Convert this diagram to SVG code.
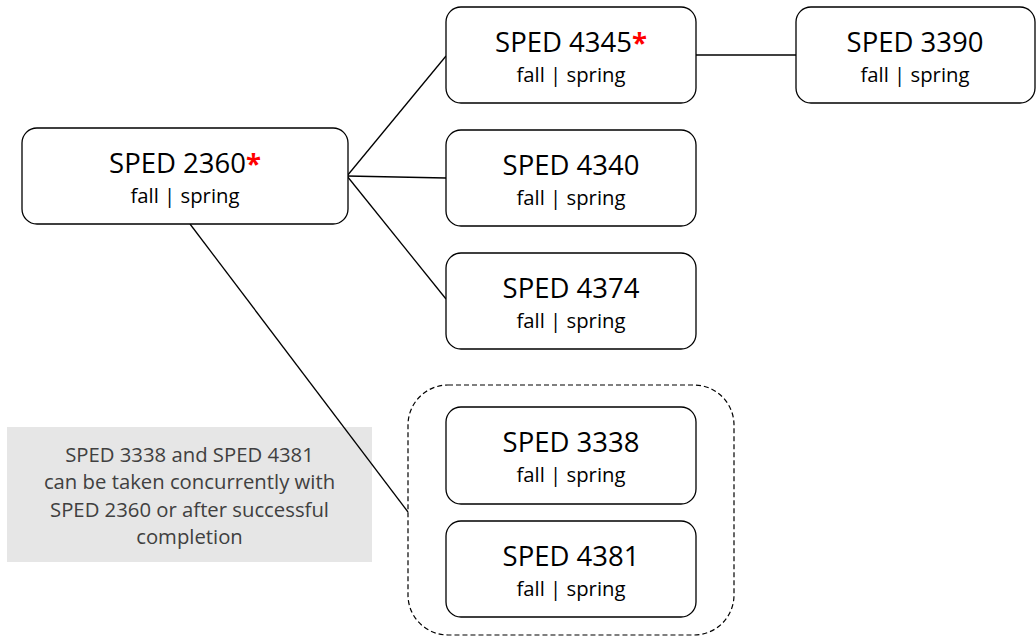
<svg xmlns="http://www.w3.org/2000/svg" width="1036" height="637" viewBox="0 0 1036 637">
<style>
.node{fill:#fff;stroke:#000;stroke-width:1.3}
.t{font-family:"Open Sans","Noto Sans",sans-serif;font-size:27.5px;fill:#000;text-anchor:middle}
.s{font-family:"Open Sans","Noto Sans",sans-serif;font-size:20.3px;fill:#000;text-anchor:middle}
.ast{fill:#ff0000;font-weight:bold}
.conn line{stroke:#000;stroke-width:1.3}
.note{font-family:"Open Sans","Noto Sans",sans-serif;font-size:20.3px;fill:#404040;text-anchor:middle}
</style>
<rect width="1036" height="637" fill="#fff"/>
<g id="note">
<rect x="7" y="427" width="365" height="135" fill="#e6e6e6"/>
<text class="note" x="189.5" y="462">SPED 3338 and SPED 4381</text>
<text class="note" x="189.5" y="489">can be taken concurrently with</text>
<text class="note" x="189.5" y="517">SPED 2360 or after successful</text>
<text class="note" x="189.5" y="544">completion</text>
</g>
<g id="connectors" class="conn">
<line x1="347" y1="176" x2="446" y2="56"/>
<line x1="347" y1="176" x2="446" y2="178"/>
<line x1="347" y1="176" x2="446" y2="299"/>
<line x1="190" y1="224" x2="408" y2="512"/>
<line x1="696" y1="55" x2="796" y2="55"/>
</g>
<g id="group-concurrent">
<rect x="408" y="385" width="326" height="250" rx="40" fill="none" stroke="#000" stroke-width="1.2" stroke-dasharray="5,3"/>
</g>
<g id="sped2360">
<rect class="node" x="22" y="128" width="326" height="96" rx="15"/>
<text class="t" x="185" y="173">SPED 2360<tspan class="ast">*</tspan></text>
<text class="s" x="185" y="203">fall | spring</text>
</g>
<g id="sped4345">
<rect class="node" x="446" y="7" width="250" height="96" rx="15"/>
<text class="t" x="571" y="52">SPED 4345<tspan class="ast">*</tspan></text>
<text class="s" x="571" y="82">fall | spring</text>
</g>
<g id="sped3390">
<rect class="node" x="796" y="7" width="239" height="96" rx="15"/>
<text class="t" x="915" y="52">SPED 3390</text>
<text class="s" x="915" y="82">fall | spring</text>
</g>
<g id="sped4340">
<rect class="node" x="446" y="130" width="250" height="96" rx="15"/>
<text class="t" x="571" y="175">SPED 4340</text>
<text class="s" x="571" y="205">fall | spring</text>
</g>
<g id="sped4374">
<rect class="node" x="446" y="253" width="250" height="96" rx="15"/>
<text class="t" x="571" y="298">SPED 4374</text>
<text class="s" x="571" y="328">fall | spring</text>
</g>
<g id="sped3338">
<rect class="node" x="446" y="407" width="250" height="97" rx="15"/>
<text class="t" x="571" y="452">SPED 3338</text>
<text class="s" x="571" y="482">fall | spring</text>
</g>
<g id="sped4381">
<rect class="node" x="446" y="521" width="250" height="96" rx="15"/>
<text class="t" x="571" y="566">SPED 4381</text>
<text class="s" x="571" y="596">fall | spring</text>
</g>
</svg>
